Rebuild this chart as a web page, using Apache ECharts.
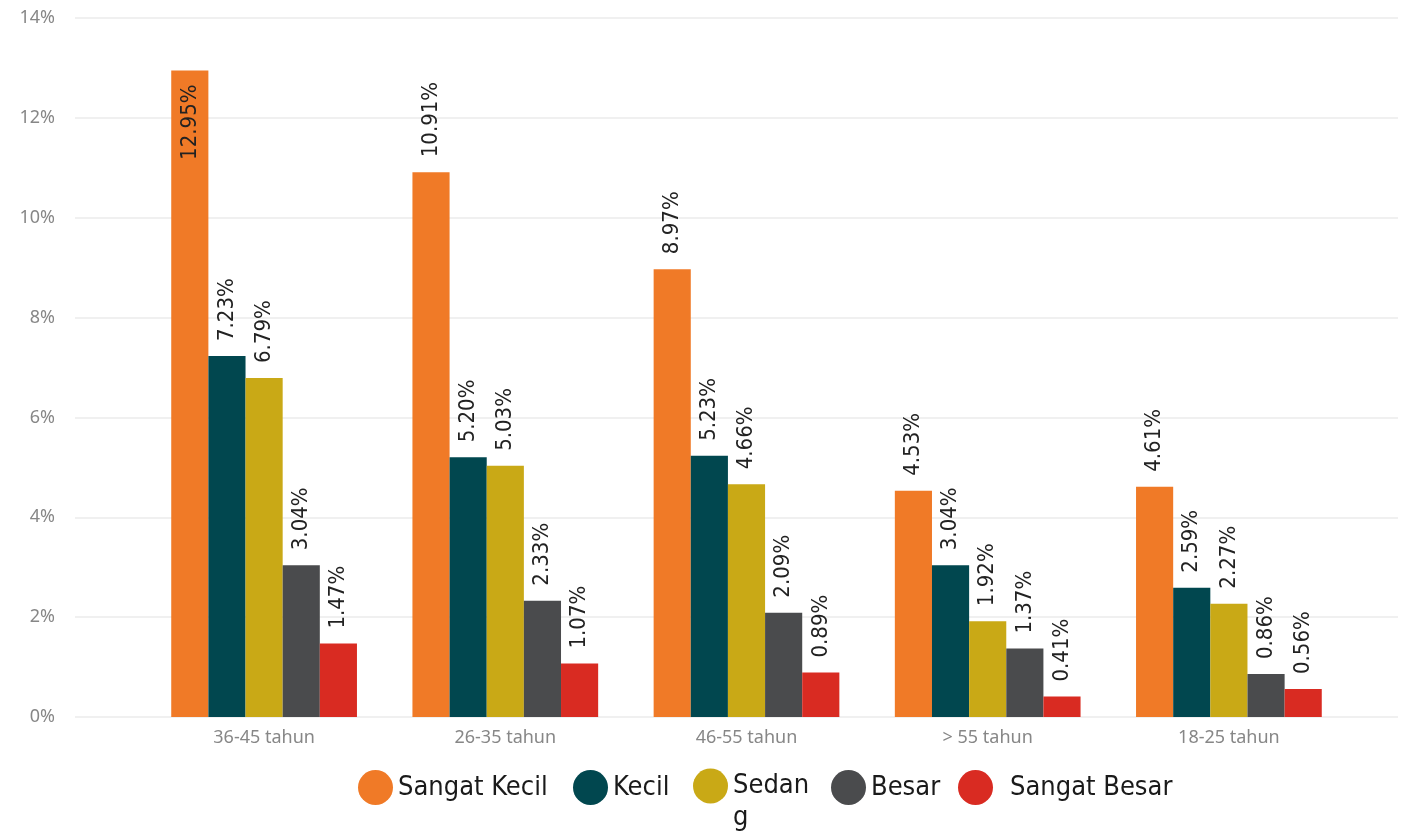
<!DOCTYPE html>
<html>
<head>
<meta charset="utf-8">
<title>Ukuran usaha per kelompok umur</title>
<script src="https://cdn.jsdelivr.net/npm/echarts@6/dist/echarts.min.js"></script>
<style>
  html, body { margin: 0; padding: 0; background: #fff; }
  #chart { width: 1404px; height: 835px; }
</style>
</head>
<body>
<div id="chart"></div>
<script>
// age groups, in the order shown
const categories = ['36-45 tahun', '26-35 tahun', '46-55 tahun', '> 55 tahun', '18-25 tahun']
const seriesNames = ['Sangat Kecil', 'Kecil', 'Sedang', 'Besar', 'Sangat Besar']

// percentages per age group
const sangatKecil = [12.95, 10.91, 8.97, 4.53, 4.61]
const kecil = [7.23, 5.20, 5.23, 3.04, 2.59]
const sedang = [6.79, 5.03, 4.66, 1.92, 2.27]
const besar = [3.04, 2.33, 2.09, 1.37, 0.86]
const sangatBesar = [1.47, 1.07, 0.89, 0.41, 0.56]

const yTicks = [0, 2, 4, 6, 8, 10, 12, 14]

const colors = ['#f07a27', '#01474f', '#c9a916', '#4a4b4d', '#d92b22']
const seriesValues = [sangatKecil, kecil, sedang, besar, sangatBesar]

const labelFont = '"DejaVu Sans Condensed", "Liberation Sans Narrow", "DejaVu Sans", sans-serif'
const axisFont = '"Noto Sans", "Open Sans", sans-serif'

const chart = echarts.init(document.getElementById('chart'))

function barLabel(value) {
  return value.toFixed(2) + '%'
}

const series = seriesValues.map((values, i) => ({
  name: seriesNames[i],
  type: 'bar',
  xAxisIndex: 1,
  yAxisIndex: 1,
  barGap: 0,
  barCategoryGap: '23%',
  itemStyle: { color: colors[i] },
  label: {
    show: true,
    position: 'top',
    rotate: 90,
    align: 'left',
    verticalAlign: 'middle',
    distance: 15,
    color: '#222',
    fontSize: 22,
    fontFamily: labelFont,
    formatter: (p) => barLabel(p.value)
  },
  data: values.map((v) => {
    // the tallest bar has no room above it, so its label sits inside
    if (v > 12.5) {
      return {
        value: v,
        label: { position: 'insideTop', align: 'right', distance: 14 }
      }
    }
    return v
  })
}))

// legend items are placed one by one to keep the uneven spacing
const legendLeft = [353, 568, 688, 826, 953]
const legendFont = { fontSize: 27, fontFamily: labelFont, color: '#1a1a1a' }
const legends = seriesNames.map((name, i) => {
  const item = {
    left: legendLeft[i],
    top: 765,
    icon: 'circle',
    itemWidth: 35,
    itemHeight: 35,
    itemGap: 0,
    selectedMode: false,
    textStyle: Object.assign({}, legendFont),
    data: [name]
  }
  if (name === 'Sedang') {
    // wrapped like the original; a blank first line keeps "Sedan" level with the dot
    item.top = 733
    item.formatter = () => ' \nSedan\ng'
    item.textStyle = Object.assign({}, legendFont, { lineHeight: 32 })
  }
  if (name === 'Sangat Besar') {
    item.textStyle = Object.assign({}, legendFont, { padding: [0, 0, 0, 12] })
  }
  return item
})

chart.setOption({
  animation: false,
  legend: legends,
  grid: [
    { left: 75, right: 6, top: 18, bottom: 118 },
    { left: 143.5, right: 54.5, top: 18, bottom: 118 }
  ],
  xAxis: [
    { gridIndex: 0, type: 'value', min: 0, max: 1, show: false },
    {
      gridIndex: 1,
      type: 'category',
      data: categories,
      axisLine: { show: false },
      axisTick: { show: false },
      axisLabel: { color: '#878787', fontSize: 18, fontFamily: axisFont, margin: 12 }
    }
  ],
  yAxis: [
    {
      gridIndex: 0,
      type: 'value',
      min: yTicks[0],
      max: yTicks[yTicks.length - 1],
      interval: 2,
      axisLine: { show: false },
      axisTick: { show: false },
      axisLabel: { color: '#878787', fontSize: 18, fontFamily: axisFont, margin: 20, formatter: '{value}%' },
      splitLine: { lineStyle: { color: '#ebebeb', width: 1.5 } }
    },
    {
      gridIndex: 1,
      type: 'value',
      min: yTicks[0],
      max: yTicks[yTicks.length - 1],
      show: false,
      splitLine: { show: false }
    }
  ],
  series: series
})
</script>
</body>
</html>
